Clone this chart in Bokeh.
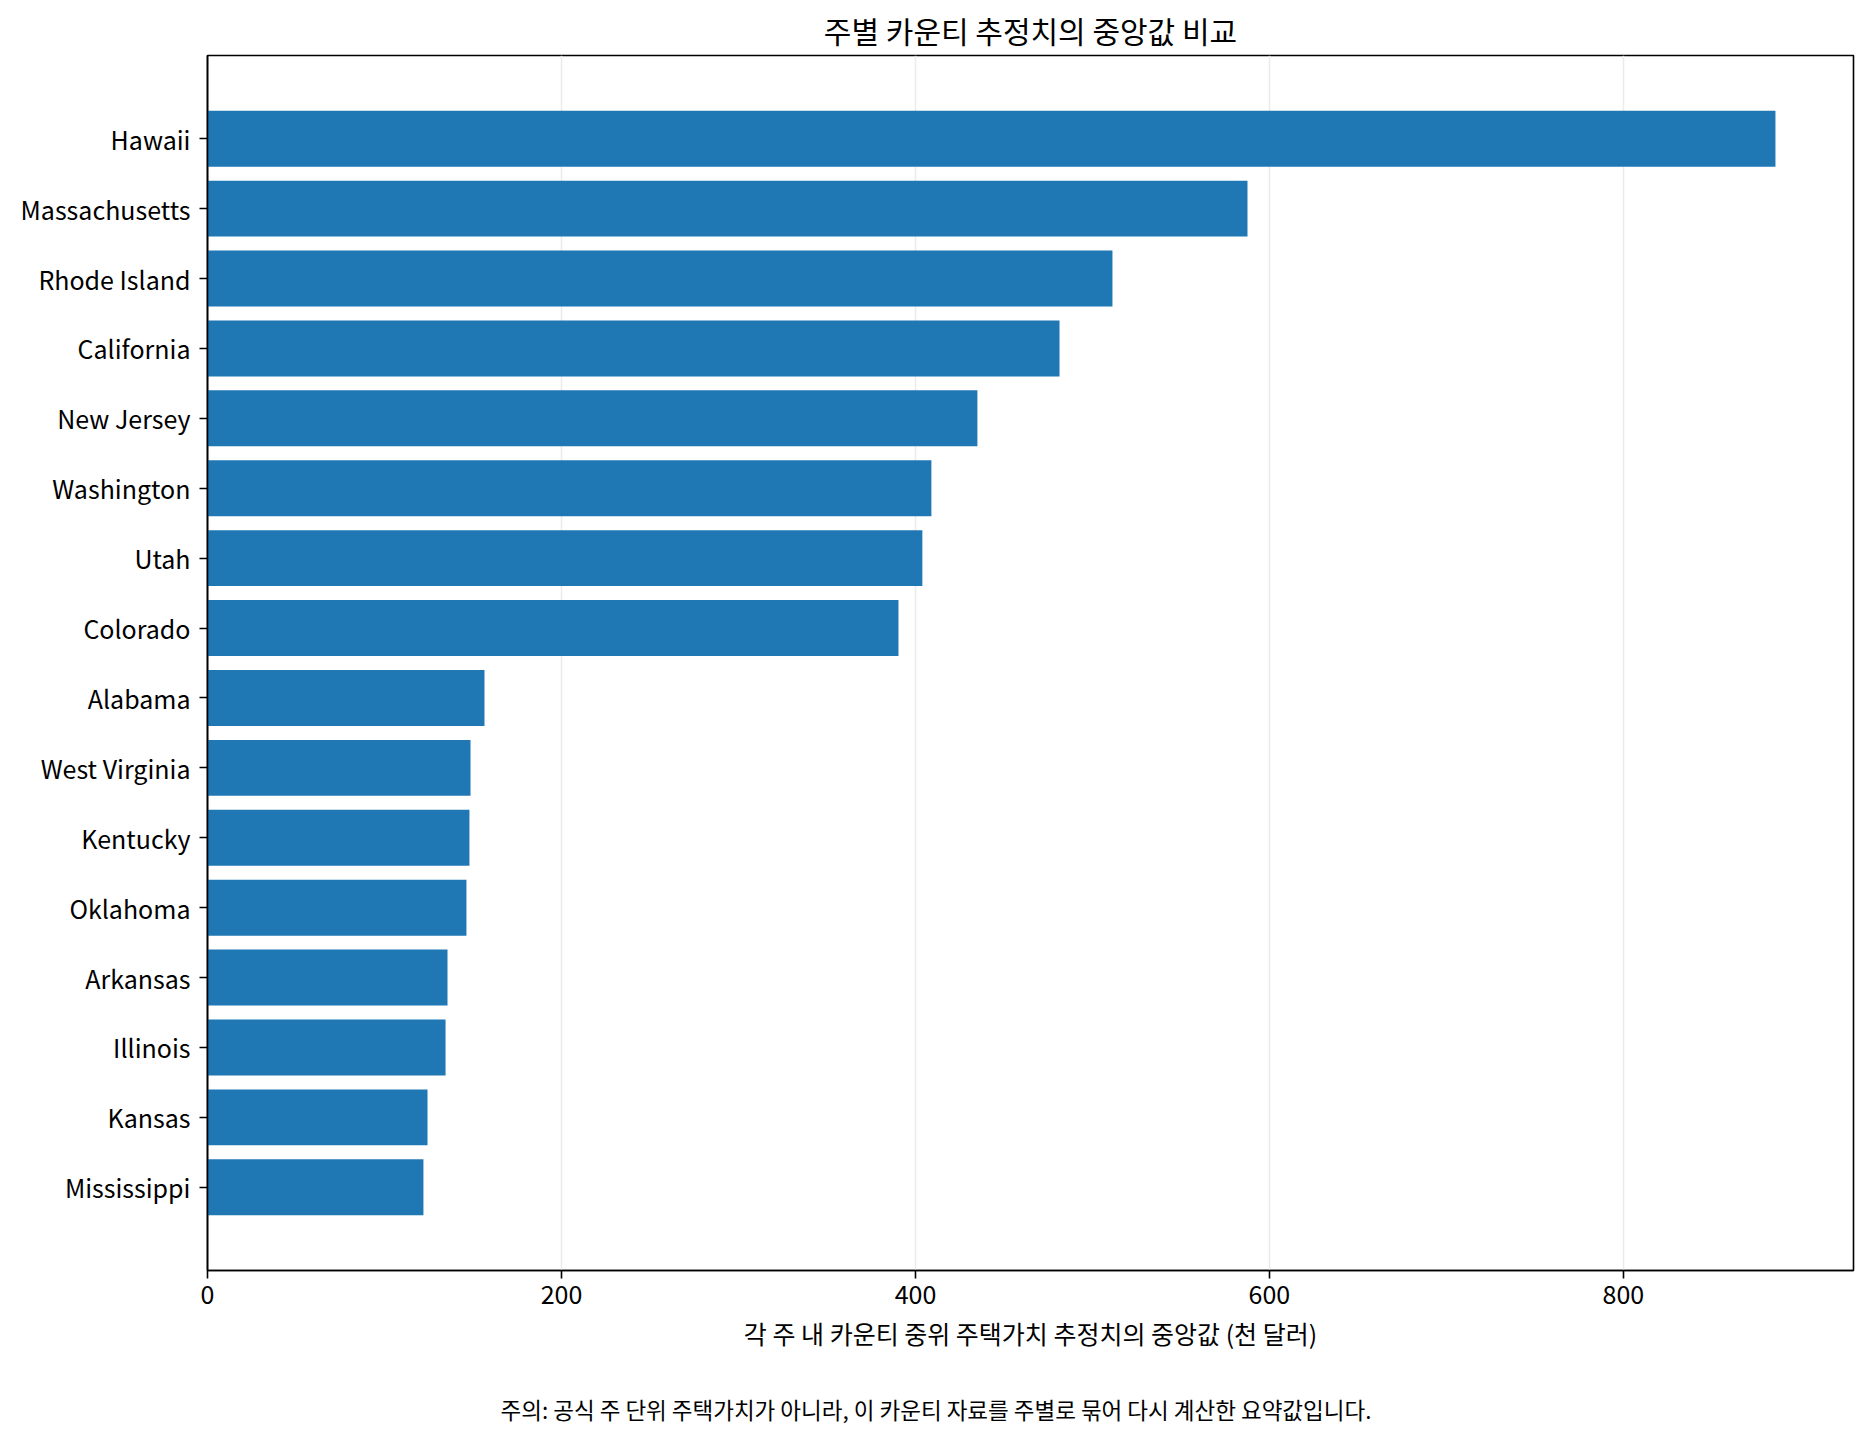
from bokeh.plotting import figure
from bokeh.models import Range1d, FactorRange, SingleIntervalTicker, FixedTicker, LinearAxis, Title
from bokeh.embed import file_html
from bokeh.resources import INLINE

states = ["Hawaii", "Massachusetts", "Rhode Island", "California", "New Jersey",
          "Washington", "Utah", "Colorado", "Alabama", "West Virginia", "Kentucky",
          "Oklahoma", "Arkansas", "Illinois", "Kansas", "Mississippi"]
medians = [885.9, 587.6, 511.3, 481.4, 435.0, 409.0, 403.9, 390.4,
           156.5, 148.6, 148.0, 146.3, 135.6, 134.5, 124.3, 122.0]

title_text = "주별 카운티 추정치의 중앙값 비교"
xlabel = "각 주 내 카운티 중위 주택가치 추정치의 중앙값 (천 달러)"
note = "주의: 공식 주 단위 주택가치가 아니라, 이 카운티 자료를 주별로 묶어 다시 계산한 요약값입니다."

FONT = "Noto Sans CJK KR"
BLUE = "#1f77b4"

# bottom to top in bokeh, so reverse
factors = states[::-1]
p = figure(width=1855, height=1428, output_backend="svg", toolbar_location=None,
           y_range=FactorRange(factors=factors, range_padding=0.69, range_padding_units="absolute"),
           x_range=Range1d(0, 930),
           min_border_left=207, min_border_right=2, min_border_top=55, min_border_bottom=158)

p.hbar(y=states, right=medians, left=0, height=0.8, color=BLUE, line_color=None)

p.title.text = title_text
p.title.align = "center"
p.title.text_font = FONT
p.title.text_font_size = "30px"
p.title.text_font_style = "normal"
p.title.text_color = "black"
p.title.standoff = 7

p.xaxis.ticker = SingleIntervalTicker(interval=200, num_minor_ticks=0)
p.xaxis.axis_label = xlabel
p.xaxis.axis_label_text_font = FONT
p.xaxis.axis_label_text_font_size = "25px"
p.xaxis.axis_label_text_font_style = "normal"
p.xaxis.axis_label_text_color = "black"
p.xaxis.axis_label_standoff = 8

for ax in (p.xaxis, p.yaxis):
    ax.major_label_text_font = FONT
    ax.major_label_text_font_size = "25px"
    ax.major_label_text_color = "black"
    ax.axis_line_color = "black"
    ax.axis_line_width = 1.6
    ax.major_tick_line_color = "black"
    ax.major_tick_line_width = 1.6
    ax.major_tick_out = 8
    ax.major_tick_in = 0
    ax.minor_tick_line_color = None
p.xaxis.major_label_standoff = 6
p.yaxis.major_label_standoff = 9

# empty axis used only as a spacer between the axis label and the footnote
spacer = LinearAxis(ticker=FixedTicker(ticks=[]), axis_line_color=None,
                    major_tick_line_color=None, minor_tick_line_color=None,
                    major_tick_out=0, major_tick_in=0, major_label_standoff=0,
                    axis_label=" ", axis_label_text_font_size="1px",
                    axis_label_standoff=35)
p.add_layout(spacer, "below")

# footnote, left aligned so it sits centred under the whole figure
p.add_layout(Title(text=note, align="left", vertical_align="top", text_font=FONT,
                   text_font_size="22.5px", text_font_style="normal", text_color="black",
                   standoff=0, offset=293), "below")

p.xgrid.grid_line_color = "#ebebeb"
p.xgrid.grid_line_width = 1.5
p.ygrid.grid_line_color = None

p.outline_line_color = "black"
p.outline_line_width = 1.6
p.outline_line_alpha = 1.0
p.background_fill_color = "white"
p.border_fill_color = "white"

open("out.html", "w").write(file_html(p, INLINE))
